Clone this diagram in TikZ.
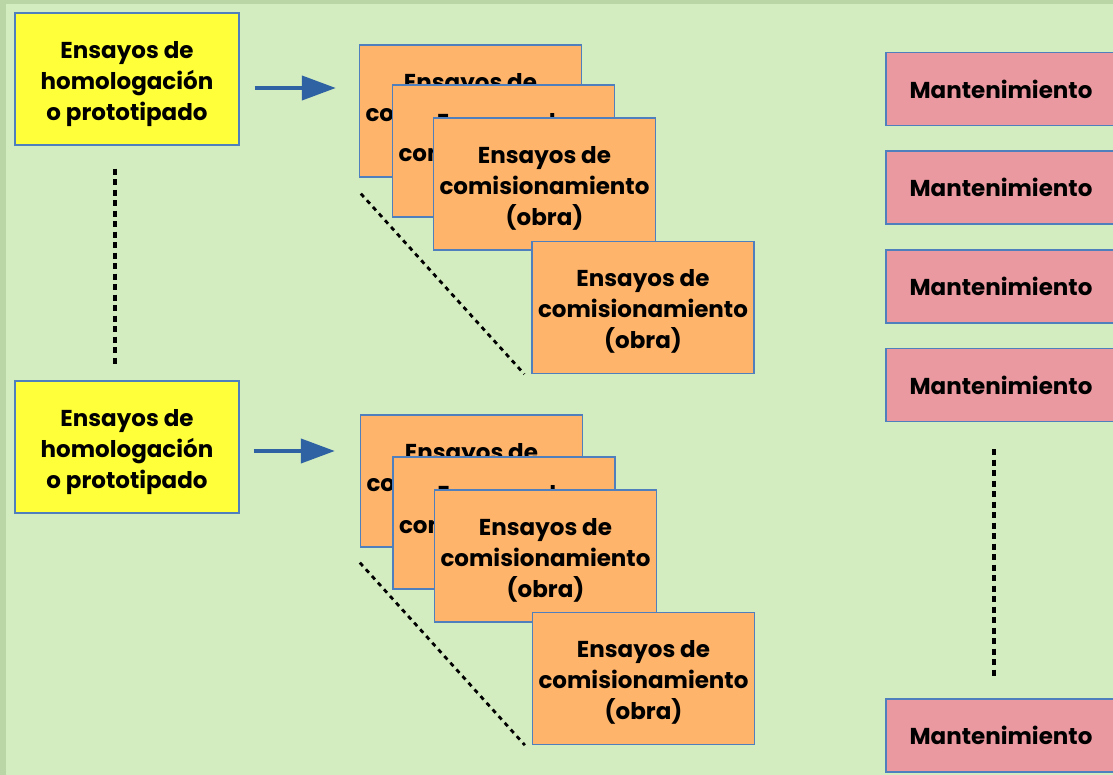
\documentclass[tikz,border=0pt]{standalone}
\usepackage{fontspec}
\setmainfont{Poppins}
\usetikzlibrary{arrows.meta}
\definecolor{bgouter}{HTML}{BAD6A6}
\definecolor{bginner}{HTML}{D3EDC0}
\definecolor{yfill}{HTML}{FFFF3A}
\definecolor{ofill}{HTML}{FEB46A}
\definecolor{pfill}{HTML}{EB99A0}
\definecolor{edge}{HTML}{4F7FBC}
\definecolor{arrblue}{HTML}{2F62A3}
\newcommand{\mytri}[3]{\raisebox{0pt}[\dimexpr\height+8pt\relax][\depth]{\begin{tabular}{@{}c@{}}#1\\#2\\#3\end{tabular}}}
\tikzset{
  box/.style={draw=edge, line width=1.3pt, rectangle, inner sep=0pt,
    font={\fontsize{23}{31}\selectfont\bfseries}, text=black},
  ybox/.style={box, fill=yfill, minimum width=224pt, minimum height=132pt},
  obox/.style={box, fill=ofill, minimum width=222pt, minimum height=132pt},
  pbox/.style={box, fill=pfill, minimum width=230pt, minimum height=73pt},
  arr/.style={draw=arrblue, line width=4pt, -{Triangle[length=34pt,width=24pt]}},
  dotline/.style={draw=black, line width=3.5pt, dash pattern=on 6pt off 4.5pt},
  diagline/.style={draw=black, line width=2.8pt, dash pattern=on 4.5pt off 4.5pt}
}
\begin{document}
\begin{tikzpicture}[x=1pt,y=-1pt]
\clip (0,0) rectangle (1113,775);
\fill[bgouter] (0,0) rectangle (1113,775);
\fill[bginner] (6,4) rectangle (1113,775);

% left column
\node[ybox] (y1) at (127,79) {\mytri{Ensayos de}{homologación}{o prototipado}};
\node[ybox] (y2) at (127,447) {\mytri{Ensayos de}{homologación}{o prototipado}};

% top stack
\node[obox] (ta) at (470.5,111) {\mytri{Ensayos de}{comisionamiento}{(obra)}};
\node[obox] (tb) at (503.5,151) {\mytri{Ensayos de}{comisionamiento}{(obra)}};
\node[obox] (tc) at (544.5,184) {\mytri{Ensayos de}{comisionamiento}{(obra)}};
\node[obox] (td) at (643,307.5) {\mytri{Ensayos de}{comisionamiento}{(obra)}};

% bottom stack
\node[obox] (ba) at (471.5,481) {\mytri{Ensayos de}{comisionamiento}{(obra)}};
\node[obox] (bb) at (504,523) {\mytri{Ensayos de}{comisionamiento}{(obra)}};
\node[obox] (bc) at (545.5,556) {\mytri{Ensayos de}{comisionamiento}{(obra)}};
\node[obox] (bd) at (643.5,678.5) {\mytri{Ensayos de}{comisionamiento}{(obra)}};

% right column
\node[pbox] (m1) at (1001,89) {Mantenimiento};
\node[pbox] (m2) at (1001,187.5) {Mantenimiento};
\node[pbox] (m3) at (1001,286.5) {Mantenimiento};
\node[pbox] (m4) at (1001,385) {Mantenimiento};
\node[pbox] (m5) at (1001,735.5) {Mantenimiento};

% arrows
\draw[arr, shorten <=15pt, shorten >=23pt] ([yshift=-9pt]y1.east) -- ([yshift=-9pt]y1.east -| ta.west);
\draw[arr, shorten <=14pt, shorten >=25pt] ([yshift=-4pt]y2.east) -- ([yshift=-4pt]y2.east -| ba.west);

% dotted lines
\draw[dotline, shorten <=23pt, shorten >=16pt] ([xshift=-12pt]y1.south) -- ([xshift=-12pt]y2.north);
\draw[dotline, shorten <=27pt, shorten >=21pt] ([xshift=-7pt]m4.south) -- ([xshift=-7pt]m5.north);
\draw[diagline] ([shift={(2pt,-16pt)}]ta.south west) -- ([xshift=-7pt]td.south west);
\draw[diagline] ([shift={(0pt,-15pt)}]ba.south west) -- ([xshift=-7pt]bd.south west);
\end{tikzpicture}
\end{document}
